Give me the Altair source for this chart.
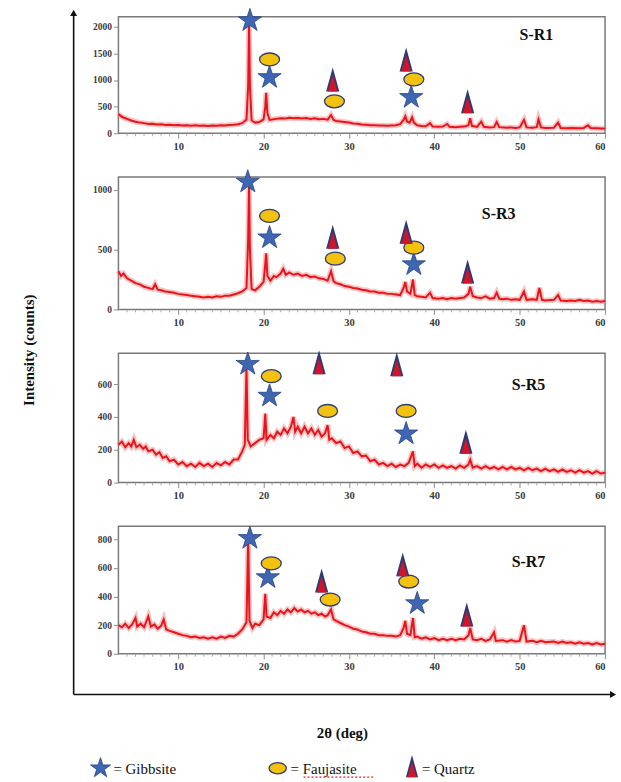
import altair as alt
import pandas as pd

SERIF = "Liberation Serif"
RED = "#e8141c"
HALO = "#f48a8a"
BLUE = "#3f66b5"
GOLD = "#f3c20f"
NAVY = "#2e3b73"
QRED = "#d0142c"

samples = ["S-R1", "S-R3", "S-R5", "S-R7"]

r1 = [(3.0, 360), (3.5, 300), (4.0, 270), (4.5, 240), (5.0, 215), (5.5, 200), (6.0, 190), (6.5, 175),
      (7.0, 180), (7.5, 165), (8.0, 170), (8.5, 155), (9.0, 160), (9.5, 150), (10.0, 155), (10.5, 145),
      (11.0, 150), (11.5, 140), (12.0, 150), (12.5, 140), (13.0, 145), (13.5, 135), (14.0, 145), (14.5, 140),
      (15.0, 150), (15.5, 145), (16.0, 155), (16.5, 160), (17.0, 170), (17.5, 190), (18.0, 260), (18.2, 900),
      (18.3, 2100), (18.4, 900), (18.6, 240), (19.0, 200), (19.5, 210), (20.0, 260), (20.2, 500), (20.3, 760),
      (20.45, 380), (20.7, 250), (21.0, 260), (21.5, 270), (22.0, 280), (22.5, 275), (23.0, 290), (23.5, 280),
      (24.0, 285), (24.5, 275), (25.0, 285), (25.5, 270), (26.0, 280), (26.5, 265), (27.0, 270), (27.5, 255),
      (27.9, 340), (28.2, 250), (28.5, 230), (29.0, 220), (29.5, 210), (30.0, 200), (30.5, 185), (31.0, 180),
      (31.5, 165), (32.0, 160), (32.5, 150), (33.0, 150), (33.5, 145), (34.0, 145), (34.5, 140), (35.0, 145),
      (35.5, 150), (36.0, 170), (36.4, 250), (36.6, 320), (36.8, 220), (37.1, 200), (37.4, 300), (37.6, 200),
      (38.0, 150), (38.5, 135), (39.0, 130), (39.5, 190), (39.8, 125), (40.5, 120), (41.0, 125), (41.5, 175),
      (41.8, 120), (42.5, 115), (43.0, 120), (43.5, 125), (44.0, 150), (44.2, 280), (44.4, 140), (45.0, 120),
      (45.5, 220), (45.8, 120), (46.5, 110), (47.0, 115), (47.3, 210), (47.6, 115), (48.5, 105), (49.0, 110),
      (49.5, 100), (50.0, 110), (50.5, 250), (50.8, 110), (51.5, 105), (52.0, 115), (52.2, 260), (52.5, 110),
      (53.0, 100), (54.0, 105), (54.5, 200), (54.8, 100), (55.5, 95), (56.0, 100), (57.0, 95), (57.5, 100),
      (58.0, 150), (58.3, 100), (59.0, 95), (59.5, 90), (60.0, 90)]

r3 = [(3.0, 320), (3.3, 280), (3.6, 300), (4.0, 260), (4.5, 240), (5.0, 220), (5.5, 210), (6.0, 190),
      (6.5, 180), (7.0, 170), (7.3, 210), (7.6, 165), (8.0, 160), (8.5, 150), (9.0, 145), (9.5, 140),
      (10.0, 130), (10.5, 125), (11.0, 120), (11.5, 115), (12.0, 110), (12.5, 105), (13.0, 100), (13.5, 105),
      (14.0, 100), (14.5, 110), (15.0, 105), (15.5, 115), (16.0, 115), (16.5, 125), (17.0, 135), (17.5, 150),
      (18.0, 180), (18.2, 600), (18.3, 1060), (18.4, 500), (18.6, 170), (19.0, 160), (19.5, 190), (20.0, 230),
      (20.2, 380), (20.3, 470), (20.45, 280), (20.8, 240), (21.2, 280), (21.5, 270), (22.0, 300), (22.3, 340),
      (22.6, 290), (23.0, 310), (23.5, 290), (24.0, 300), (24.5, 280), (25.0, 290), (25.5, 270), (26.0, 275),
      (26.5, 260), (27.0, 255), (27.5, 240), (27.9, 320), (28.2, 235), (28.5, 220), (29.0, 210), (29.5, 195),
      (30.0, 190), (30.5, 180), (31.0, 175), (31.5, 165), (32.0, 160), (32.5, 150), (33.0, 150), (33.5, 140),
      (34.0, 140), (34.5, 130), (35.0, 130), (35.5, 125), (36.0, 120), (36.4, 180), (36.6, 230), (36.8, 150),
      (37.2, 130), (37.5, 250), (37.7, 120), (38.0, 110), (38.5, 105), (39.0, 100), (39.5, 140), (39.8, 95),
      (40.5, 90), (41.0, 95), (41.5, 85), (42.0, 95), (42.5, 90), (43.0, 95), (43.5, 100), (44.0, 130),
      (44.2, 190), (44.5, 110), (45.0, 100), (45.5, 95), (46.0, 110), (46.5, 90), (47.0, 95), (47.3, 140),
      (47.6, 90), (48.0, 85), (48.5, 90), (49.0, 80), (49.5, 85), (50.0, 80), (50.5, 150), (50.8, 80),
      (51.5, 85), (52.0, 80), (52.3, 180), (52.6, 80), (53.0, 75), (54.0, 80), (54.5, 120), (54.8, 75),
      (55.5, 70), (56.0, 75), (56.5, 70), (57.0, 80), (57.5, 70), (58.0, 75), (58.5, 65), (59.0, 70),
      (59.5, 65), (60.0, 70)]

r5 = [(3.0, 230), (3.4, 250), (3.8, 215), (4.2, 240), (4.5, 220), (4.8, 260), (5.1, 215), (5.5, 230),
      (5.9, 205), (6.2, 220), (6.5, 190), (7.0, 200), (7.4, 170), (7.8, 185), (8.2, 150), (8.6, 160),
      (9.0, 130), (9.5, 140), (10.0, 110), (10.5, 125), (11.0, 100), (11.5, 115), (12.0, 95), (12.5, 120),
      (13.0, 100), (13.5, 115), (14.0, 95), (14.5, 120), (15.0, 105), (15.5, 125), (16.0, 110), (16.5, 140),
      (17.0, 140), (17.5, 190), (17.8, 230), (18.0, 700), (18.15, 260), (18.5, 220), (19.0, 240), (19.5, 260),
      (20.0, 270), (20.2, 420), (20.35, 260), (20.8, 290), (21.2, 270), (21.6, 310), (22.0, 290), (22.4, 330),
      (22.8, 300), (23.2, 340), (23.5, 400), (23.7, 310), (24.0, 340), (24.4, 300), (24.8, 340), (25.2, 300),
      (25.6, 330), (26.0, 290), (26.4, 320), (26.8, 280), (27.2, 300), (27.5, 350), (27.7, 260), (28.0, 270),
      (28.5, 240), (29.0, 250), (29.5, 210), (30.0, 220), (30.5, 180), (31.0, 190), (31.5, 160), (32.0, 165),
      (32.5, 130), (33.0, 140), (33.5, 110), (34.0, 120), (34.5, 100), (35.0, 115), (35.5, 95), (36.0, 110),
      (36.5, 100), (37.0, 120), (37.5, 190), (37.7, 100), (38.0, 115), (38.5, 90), (39.0, 110), (39.5, 95),
      (40.0, 110), (40.5, 90), (41.0, 105), (41.5, 90), (42.0, 100), (42.5, 85), (43.0, 105), (43.5, 90),
      (44.0, 110), (44.2, 140), (44.5, 90), (45.0, 100), (45.5, 85), (46.0, 100), (46.5, 85), (47.0, 95),
      (47.5, 80), (48.0, 95), (48.5, 80), (49.0, 95), (49.5, 80), (50.0, 90), (50.5, 75), (51.0, 90),
      (51.5, 75), (52.0, 85), (52.5, 70), (53.0, 85), (53.5, 70), (54.0, 80), (54.5, 65), (55.0, 80),
      (55.5, 65), (56.0, 75), (56.5, 60), (57.0, 75), (57.5, 60), (58.0, 70), (58.5, 55), (59.0, 70),
      (59.5, 55), (60.0, 60)]

r7 = [(3.0, 200), (3.4, 185), (3.8, 210), (4.2, 180), (4.6, 205), (5.0, 250), (5.2, 190), (5.6, 210),
      (6.0, 185), (6.5, 260), (6.8, 190), (7.2, 205), (7.6, 175), (8.0, 195), (8.3, 240), (8.6, 170),
      (9.0, 160), (9.5, 150), (10.0, 140), (10.5, 130), (11.0, 125), (11.5, 115), (12.0, 120), (12.5, 110),
      (13.0, 115), (13.5, 105), (14.0, 115), (14.5, 105), (15.0, 120), (15.5, 110), (16.0, 125), (16.5, 120),
      (17.0, 140), (17.5, 170), (18.0, 220), (18.2, 800), (18.35, 230), (18.7, 180), (19.0, 210), (19.5, 200),
      (20.0, 240), (20.2, 420), (20.35, 260), (20.8, 250), (21.2, 290), (21.6, 270), (22.0, 300), (22.4, 280),
      (22.8, 310), (23.2, 290), (23.6, 320), (24.0, 295), (24.4, 310), (24.8, 290), (25.2, 300), (25.6, 280),
      (26.0, 290), (26.4, 270), (26.8, 280), (27.2, 260), (27.5, 270), (27.9, 310), (28.2, 240), (28.5, 230),
      (29.0, 215), (29.5, 200), (30.0, 190), (30.5, 175), (31.0, 170), (31.5, 155), (32.0, 150), (32.5, 140),
      (33.0, 140), (33.5, 130), (34.0, 130), (34.5, 125), (35.0, 125), (35.5, 120), (36.0, 130), (36.4, 180),
      (36.6, 230), (36.8, 140), (37.2, 130), (37.5, 250), (37.7, 115), (38.0, 120), (38.5, 105), (39.0, 115),
      (39.5, 100), (40.0, 110), (40.5, 95), (41.0, 105), (41.5, 95), (42.0, 105), (42.5, 95), (43.0, 105),
      (43.5, 100), (44.0, 130), (44.2, 180), (44.5, 100), (45.0, 95), (45.5, 105), (46.0, 90), (46.5, 100),
      (47.0, 150), (47.2, 90), (48.0, 95), (48.5, 85), (49.0, 95), (49.5, 85), (50.0, 90), (50.5, 200),
      (50.8, 85), (51.5, 90), (52.0, 80), (52.5, 90), (53.0, 80), (54.0, 85), (54.5, 75), (55.0, 85),
      (55.5, 75), (56.0, 80), (56.5, 70), (57.0, 80), (57.5, 70), (58.0, 75), (58.5, 65), (59.0, 75),
      (59.5, 65), (60.0, 70)]

m1 = [(18.4, 2116, "Gibbsite"), (20.7, 1386, "Faujasite"), (20.7, 1049, "Gibbsite"),
      (28.1, 1011, "Quartz"), (28.3, 600, "Faujasite"), (36.7, 1386, "Quartz"),
      (37.6, 1011, "Faujasite"), (37.3, 674, "Gibbsite"), (43.9, 600, "Quartz")]
m3 = [(18.15, 1067, "Gibbsite"), (20.7, 783, "Faujasite"), (20.7, 600, "Gibbsite"),
      (28.1, 608, "Quartz"), (28.4, 425, "Faujasite"), (36.7, 650, "Quartz"),
      (37.6, 517, "Faujasite"), (37.6, 375, "Gibbsite"), (43.9, 317, "Quartz")]
m5 = [(18.15, 721, "Gibbsite"), (20.9, 648, "Faujasite"), (20.7, 527, "Gibbsite"),
      (26.5, 733, "Quartz"), (27.5, 436, "Faujasite"), (35.6, 721, "Quartz"),
      (36.7, 436, "Faujasite"), (36.7, 297, "Gibbsite"), (43.7, 248, "Quartz")]
m7 = [(18.4, 807, "Gibbsite"), (20.9, 632, "Faujasite"), (20.5, 533, "Gibbsite"),
      (26.8, 512, "Quartz"), (27.8, 379, "Faujasite"), (36.3, 625, "Quartz"),
      (37.0, 505, "Faujasite"), (38.0, 351, "Gibbsite"), (43.8, 274, "Quartz")]

y_max = [2187, 1108, 788, 891]
y_ticks = [[0, 500, 1000, 1500, 2000], [0, 500, 1000], [0, 200, 400, 600], [0, 200, 400, 600, 800]]
x_ticks = [10, 20, 30, 40, 50, 60]
x_minor = [4, 5, 6, 7, 8, 9, 11, 12, 13, 14, 15, 16, 17, 18, 19, 21, 22, 23, 24, 25, 26, 27, 28, 29,
           31, 32, 33, 34, 35, 36, 37, 38, 39, 41, 42, 43, 44, 45, 46, 47, 48, 49,
           51, 52, 53, 54, 55, 56, 57, 58, 59]
phases = ["Gibbsite", "Faujasite", "Quartz"]

STAR = ("M0,-1L0.2245,-0.309L0.9511,-0.309L0.3633,0.118L0.5878,0.809L0,0.382"
        "L-0.5878,0.809L-0.3633,0.118L-0.9511,-0.309L-0.2245,-0.309Z")
ELLIPSE = ("M-1,0C-1,-0.36,-0.55,-0.65,0,-0.65C0.55,-0.65,1,-0.36,1,0"
           "C1,0.36,0.55,0.65,0,0.65C-0.55,0.65,-1,0.36,-1,0Z")
TRI_OUT = "M-0.55,1L0,-1L0.55,1Z"
TRI_IN = "M-0.4,1L0,-0.35L0.4,1Z"

XSCALE = alt.Scale(domain=[3, 60], nice=False, zero=False)
XAXIS = alt.Axis(values=x_ticks, title=None, grid=False, domain=False, tickSize=5,
                 tickColor="#8c8c8c", labelFont=SERIF, labelFontWeight="bold",
                 labelFontSize=10.5, labelColor="#3a3a3a", labelPadding=3, labelOverlap=False)


def make_y_axis(idx):
    return alt.Axis(values=y_ticks[idx], title=None, grid=False, domain=False, tickSize=5,
                    tickColor="#8c8c8c", labelFont=SERIF, labelFontWeight="bold",
                    labelFontSize=9.5, labelColor="#3a3a3a", format="d", labelPadding=2,
                    labelOverlap=False)


def marker_layers(df, xenc, yenc):
    base = alt.Chart(df)
    star = base.transform_filter(alt.datum.phase == "Gibbsite").mark_point(
        shape=STAR, filled=True, fill=BLUE, stroke="#26437d", strokeWidth=0.8, size=600, opacity=1
    ).encode(x=xenc, y=yenc)
    ell = base.transform_filter(alt.datum.phase == "Faujasite").mark_point(
        shape=ELLIPSE, filled=True, fill=GOLD, stroke=NAVY, strokeWidth=1.3, size=400, opacity=1
    ).encode(x=xenc, y=yenc)
    tri_o = base.transform_filter(alt.datum.phase == "Quartz").mark_point(
        shape=TRI_OUT, filled=True, fill=NAVY, strokeWidth=0, size=580, opacity=1
    ).encode(x=xenc, y=yenc)
    tri_i = base.transform_filter(alt.datum.phase == "Quartz").mark_point(
        shape=TRI_IN, filled=True, fill=QRED, strokeWidth=0, size=580, opacity=1
    ).encode(x=xenc, y=yenc)
    return [star, ell, tri_o, tri_i]


def panel(idx, pts, marks, height, label_pos, extra=None):
    W = 489
    df = pd.DataFrame(pts, columns=["x", "y"])
    mk = pd.DataFrame(marks, columns=["x", "y", "phase"])
    ysc = alt.Scale(domain=[0, y_max[idx]], nice=False, zero=True)
    xenc = alt.X("x:Q", scale=XSCALE, axis=XAXIS)
    yenc = alt.Y("y:Q", scale=ysc, axis=make_y_axis(idx))
    base = alt.Chart(df)
    halo = base.mark_line(color=HALO, strokeWidth=5.5, opacity=0.5).encode(x=xenc, y=yenc)
    core = base.mark_line(color=RED, strokeWidth=2).encode(x=xenc, y=yenc)
    minor = alt.Chart(pd.DataFrame({"x": x_minor})).mark_rule(
        color="#9a9a9a", strokeWidth=0.8
    ).encode(x=xenc, y=alt.value(height), y2=alt.value(height + 3))
    label = alt.Chart(pd.DataFrame({"t": [samples[idx]]})).mark_text(
        font=SERIF, fontWeight="bold", fontSize=16, color="#111", align="center", baseline="middle"
    ).encode(text="t:N", x=alt.value(label_pos[0]), y=alt.value(label_pos[1]))
    layers = [halo, core, minor] + marker_layers(mk, xenc, yenc) + [label]
    if extra:
        layers += extra
    return alt.layer(*layers).properties(width=W, height=height)


one = pd.DataFrame({"a": [0]})

outer = [
    alt.Chart(one).mark_rule(color="#111", strokeWidth=1.6).encode(
        x=alt.value(-45), y=alt.value(-2), y2=alt.value(681)),
    alt.Chart(one).mark_rule(color="#111", strokeWidth=1.6).encode(
        x=alt.value(-45), x2=alt.value(494), y=alt.value(681)),
    alt.Chart(one).mark_point(shape="triangle-up", filled=True, color="#111", size=50, opacity=1).encode(
        x=alt.value(-45), y=alt.value(-4)),
    alt.Chart(one).mark_point(shape="triangle-right", filled=True, color="#111", size=50, opacity=1).encode(
        x=alt.value(497), y=alt.value(681)),
    alt.Chart(pd.DataFrame({"t": ["Intensity (counts)"]})).mark_text(
        font=SERIF, fontWeight="bold", fontSize=15, color="#111", angle=270, align="center", baseline="middle"
    ).encode(text="t:N", x=alt.value(-90), y=alt.value(335)),
]

bottom = [
    alt.Chart(pd.DataFrame({"t": ["2θ (deg)"]})).mark_text(
        font=SERIF, fontWeight="bold", fontSize=15, color="#111", align="center", baseline="middle"
    ).encode(text="t:N", x=alt.value(225), y=alt.value(208)),
    alt.Chart(one).mark_point(shape=STAR, filled=True, fill=BLUE, stroke="#26437d", strokeWidth=0.8,
                              size=450, opacity=1).encode(x=alt.value(-18), y=alt.value(243)),
    alt.Chart(one).mark_point(shape=ELLIPSE, filled=True, fill=GOLD, stroke=NAVY, strokeWidth=1.3,
                              size=300, opacity=1).encode(x=alt.value(160), y=alt.value(243)),
    alt.Chart(one).mark_point(shape=TRI_OUT, filled=True, fill=NAVY, strokeWidth=0,
                              size=500, opacity=1).encode(x=alt.value(295), y=alt.value(241)),
    alt.Chart(one).mark_point(shape=TRI_IN, filled=True, fill=QRED, strokeWidth=0,
                              size=500, opacity=1).encode(x=alt.value(295), y=alt.value(241)),
    alt.Chart(one).mark_rule(color="#d22", strokeWidth=1.2, strokeDash=[2, 2]).encode(
        x=alt.value(186), x2=alt.value(257), y=alt.value(252)),
]
for xpos, name in zip([-5, 173, 305], phases):
    bottom.append(
        alt.Chart(pd.DataFrame({"t": ["= " + name]})).mark_text(
            font=SERIF, fontSize=15, color="#111", align="left", baseline="middle"
        ).encode(text="t:N", x=alt.value(xpos), y=alt.value(244))
    )

p1 = panel(0, r1, m1, 117, (420, 18), outer)
p2 = panel(1, r3, m3, 133, (382, 37))
p3 = panel(2, r5, m5, 130, (412, 32))
p4 = panel(3, r7, m7, 128, (412, 36), bottom)

chart = alt.vconcat(p1, p2, p3, p4, spacing=44, bounds="flush").resolve_scale(
    y="independent"
).properties(
    padding={"left": 21, "top": 4, "right": 4, "bottom": 4}
).configure_view(stroke="#7a7a7a", strokeWidth=1.5)

chart.save("out.html", embed_options={"renderer": "svg", "actions": False})
